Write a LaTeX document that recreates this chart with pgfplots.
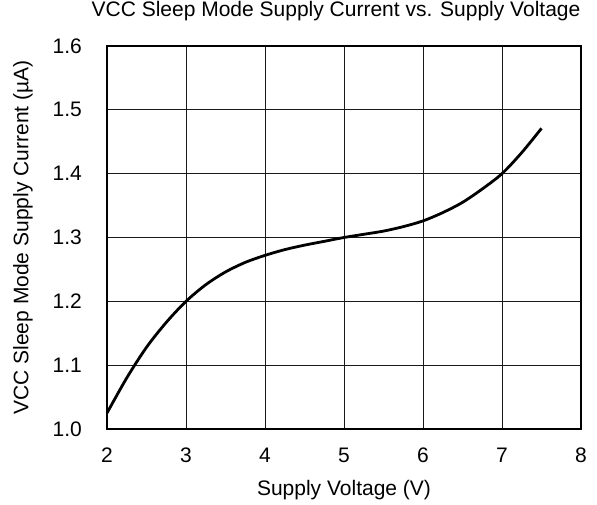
\documentclass[border=0pt]{standalone}
\usepackage{pgfplots}
\pgfplotsset{compat=1.18}
\usepackage{fontspec}
\setmainfont{Liberation Sans}
\begin{document}
\begin{tikzpicture}
\begin{axis}[
  scale only axis,
  width=474bp, height=383bp,
  xmin=2, xmax=8, ymin=1.0, ymax=1.6,
  xtick={2,3,4,5,6,7,8},
  ytick={1.0,1.1,1.2,1.3,1.4,1.5,1.6},
  /pgf/number format/assume math mode=true,
  major tick length=0pt,
  grid=major,
  grid style={black!90, line width=0.9bp},
  axis line style={line width=2.2bp},
  tick label style={font=\fontsize{21bp}{24bp}\selectfont, inner sep=0pt},
  y tick label style={/pgf/number format/fixed, /pgf/number format/fixed zerofill, /pgf/number format/precision=1, anchor=east, xshift=-25bp},
  x tick label style={anchor=base, yshift=-34bp},
  title={VCC Sleep Mode Supply Current vs. Supply Voltage},
  title style={font=\fontsize{21bp}{24bp}\selectfont, inner sep=0pt, at={(axis description cs:0.5,1)}, anchor=base, yshift=24bp, xshift=-8bp},
  xlabel={Supply Voltage (V)},
  xlabel style={font=\fontsize{21bp}{24bp}\selectfont, inner sep=0pt, at={(axis description cs:0.5,0)}, anchor=base, yshift=-66bp},
  ylabel={VCC Sleep Mode Supply Current (µA)},
  ylabel style={font=\fontsize{21bp}{24bp}\selectfont, inner sep=0pt, at={(axis description cs:0,0.5)}, anchor=north, yshift=94bp},
]
\addplot[black, line width=2.8bp, smooth, tension=0.5] coordinates {
 (2.0,1.025) (2.25,1.080) (2.5,1.128) (2.75,1.167) (3.0,1.200) (3.25,1.226)
 (3.5,1.246) (3.75,1.261) (4.0,1.272) (4.25,1.281) (4.5,1.288) (4.75,1.294)
 (5.0,1.300) (5.25,1.305) (5.5,1.310) (5.75,1.317) (6.0,1.326) (6.25,1.339)
 (6.5,1.355) (6.75,1.376) (7.0,1.400) (7.25,1.433) (7.5,1.471)
};
\end{axis}
\path[use as bounding box] ([xshift=-107bp,yshift=-76bp]current axis.south west) rectangle ([xshift=16bp,yshift=46bp]current axis.north east);
\end{tikzpicture}
\end{document}
